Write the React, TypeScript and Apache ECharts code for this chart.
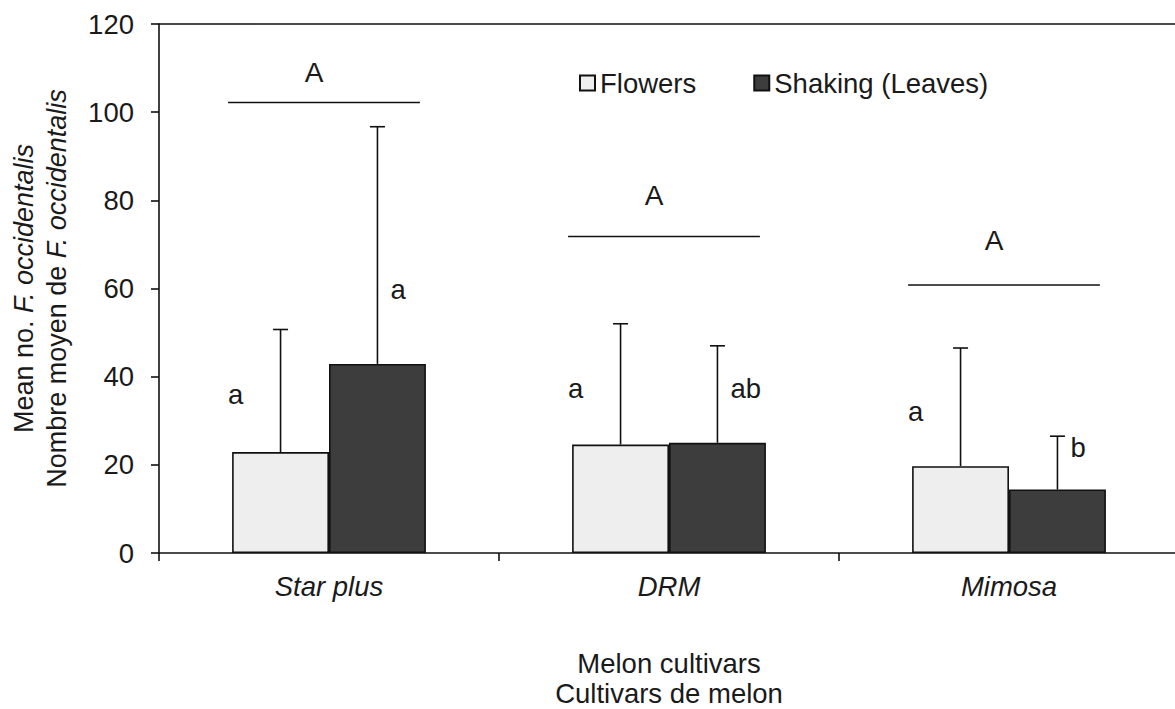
import React, { useEffect, useRef } from "react";
import * as echarts from "echarts";

const categories = ["Star plus", "DRM", "Mimosa"];
const flowers = [22.9, 24.6, 19.7];
const flowersSE = [27.8, 27.4, 26.8];
const shaking = [42.9, 25.0, 14.4];
const shakingSE = [53.8, 22.0, 12.1];
const flowersLetters = ["a", "a", "a"];
const flowersLetterY = [36.0, 37.3, 32.2];
const shakingLetters = ["a", "ab", "b"];
const shakingLetterY = [59.8, 37.3, 23.9];
const groupLetters = ["A", "A", "A"];
const groupLineY = [102.2, 71.8, 60.8];
const groupLetterY = [109.1, 81.2, 71.0];
const yTicks = { min: 0, max: 120, interval: 20 };

const FONT = "'Liberation Sans', Arial, sans-serif";
const TXT = "#1a1a1a";
const BAR_FRAC = 0.285;
const FS = 27.5;

export default function App() {
  const ref = useRef<HTMLDivElement>(null);
  useEffect(() => {
    if (!ref.current) return;
    const chart = echarts.init(ref.current, undefined, { renderer: "svg" });

    const errSeries = (name: string, vals: number[], se: number[], side: number) => ({
      type: "custom",
      name: name + " SE",
      data: vals.map((v, i) => [i, v, se[i]]),
      z: 5,
      silent: true,
      renderItem: (params: any, api: any) => {
        const ci = api.value(0);
        const v = api.value(1);
        const e = api.value(2);
        const band = api.size([1, 0])[0];
        const base = api.coord([ci, v]);
        const top = api.coord([ci, v + e]);
        const x = base[0] + (side * BAR_FRAC * band) / 2;
        const st = { stroke: "#111", lineWidth: 1.6 };
        return {
          type: "group",
          children: [
            { type: "line", shape: { x1: x, y1: base[1], x2: x, y2: top[1] }, style: st },
            { type: "line", shape: { x1: x - 7.5, y1: top[1], x2: x + 7.5, y2: top[1] }, style: st },
          ],
        };
      },
    });

    const letterSeries = (name: string, letters: string[], ys: number[], side: number) => ({
      type: "custom",
      name: name + " letters",
      data: ys.map((y, i) => [i, y]),
      z: 6,
      silent: true,
      renderItem: (params: any, api: any) => {
        const ci = api.value(0);
        const y = api.value(1);
        const band = api.size([1, 0])[0];
        const p = api.coord([ci, y]);
        const errX = p[0] + (side * BAR_FRAC * band) / 2;
        const x = side < 0 ? errX - 45 : errX + 13;
        return {
          type: "text",
          x,
          y: p[1],
          style: {
            text: letters[params.dataIndex],
            fontSize: FS,
            fontFamily: FONT,
            fill: TXT,
            align: side < 0 ? "center" : "left",
            verticalAlign: "middle",
          },
        };
      },
    });

    const groupSeries = {
      type: "custom",
      name: "group letters",
      data: groupLineY.map((y, i) => [i, y, groupLetterY[i]]),
      z: 6,
      silent: true,
      renderItem: (params: any, api: any) => {
        const ci = api.value(0);
        const ly = api.value(1);
        const ty = api.value(2);
        const band = api.size([1, 0])[0];
        const p = api.coord([ci, ly]);
        const t = api.coord([ci, ty]);
        const cx = p[0] - 5;
        const half = BAR_FRAC * band;
        return {
          type: "group",
          children: [
            {
              type: "line",
              shape: { x1: cx - half + 1, y1: p[1], x2: cx + half - 1, y2: p[1] },
              style: { stroke: "#111", lineWidth: 1.6 },
            },
            {
              type: "text",
              x: cx - 10,
              y: t[1],
              style: {
                text: groupLetters[params.dataIndex],
                fontSize: 28,
                fontFamily: FONT,
                fill: TXT,
                align: "center",
                verticalAlign: "middle",
              },
            },
          ],
        };
      },
    };

    chart.setOption({
      animation: false,
      backgroundColor: "#ffffff",
      textStyle: { fontFamily: FONT, color: TXT },
      grid: { left: 159, right: -4, top: 24, bottom: 156, containLabel: false, outerBoundsMode: "none" },
      legend: {
        data: ["Flowers", "Shaking (Leaves)"],
        left: 579,
        top: 69,
        padding: 0,
        icon: "rect",
        itemWidth: 15,
        itemHeight: 15,
        itemGap: 57,
        textStyle: { fontSize: FS, fontFamily: FONT, color: TXT, padding: [0, 0, 0, 0] },
        selectedMode: false,
      },
      xAxis: [
        {
          type: "category",
          data: categories,
          position: "bottom",
          axisLine: { show: true, lineStyle: { color: "#111", width: 1.6 } },
          axisTick: { show: true, length: 8, lineStyle: { color: "#111", width: 1.6 } },
          axisLabel: { fontSize: FS, fontStyle: "italic", color: TXT, fontFamily: FONT, margin: 20 },
          name: "Melon cultivars\nCultivars de melon",
          nameLocation: "middle",
          nameGap: 95,
          nameTextStyle: { fontSize: FS, lineHeight: 30, color: TXT, fontFamily: FONT },
        },
        {
          type: "category",
          data: categories,
          position: "top",
          axisLine: { show: true, lineStyle: { color: "#111", width: 1.6 } },
          axisTick: { show: false },
          axisLabel: { show: false },
        },
      ],
      yAxis: {
        type: "value",
        min: yTicks.min,
        max: yTicks.max,
        interval: yTicks.interval,
        axisLine: { show: true, lineStyle: { color: "#111", width: 1.6 } },
        axisTick: { show: true, length: 8, lineStyle: { color: "#111", width: 1.6 } },
        axisLabel: { fontSize: FS, color: TXT, fontFamily: FONT, margin: 25 },
        splitLine: { show: false },
        name: "{n|Mean no. }{i|F. occidentalis}\n{n|Nombre moyen de }{i|F. occidentalis}",
        nameLocation: "middle",
        nameRotate: 90,
        nameGap: 86,
        nameTextStyle: {
          fontSize: 27,
          lineHeight: 33,
          color: TXT,
          fontFamily: FONT,
          rich: {
            n: { fontSize: 27, lineHeight: 33, fontFamily: FONT, color: TXT },
            i: { fontSize: 27, lineHeight: 33, fontFamily: FONT, color: TXT, fontStyle: "italic" },
          },
        },
      },
      series: [
        {
          type: "bar",
          name: "Flowers",
          data: flowers,
          barWidth: BAR_FRAC * 100 + "%",
          barGap: "0%",
          itemStyle: { color: "#eeeeee", borderColor: "#111", borderWidth: 1.6 },
        },
        {
          type: "bar",
          name: "Shaking (Leaves)",
          data: shaking,
          barWidth: BAR_FRAC * 100 + "%",
          barGap: "0%",
          itemStyle: { color: "#3d3d3d", borderColor: "#111", borderWidth: 1.6 },
        },
        errSeries("Flowers", flowers, flowersSE, -1),
        errSeries("Shaking", shaking, shakingSE, 1),
        letterSeries("Flowers", flowersLetters, flowersLetterY, -1),
        letterSeries("Shaking", shakingLetters, shakingLetterY, 1),
        groupSeries,
      ],
    });
    return () => chart.dispose();
  }, []);
  return (
    <div
      ref={ref}
      style={{ position: "absolute", left: 0, top: 0, width: 1175, height: 709, background: "#fff" }}
    />
  );
}
